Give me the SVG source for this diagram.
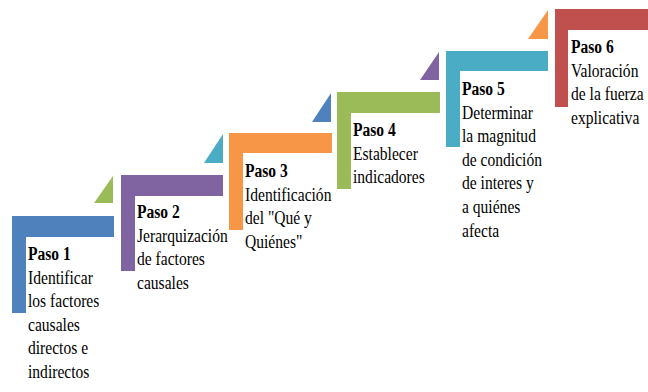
<svg xmlns="http://www.w3.org/2000/svg" width="648" height="392" viewBox="0 0 648 392">
<style>
.lbl{font-size:19px;fill:#000}
.hd{font-weight:bold}
.blue{fill:#4F81BD}.purple{fill:#8064A2}.orange{fill:#F79646}.green{fill:#9BBB59}.teal{fill:#4BACC6}.red{fill:#C0504D}
</style>
<rect width="648" height="392" fill="#fff"/>
<g id="connectors">
<polygon class="green" points="94,203 113,176 113,203"/>
<polygon class="teal" points="204,163 223,134 223,163"/>
<polygon class="blue" points="312,122 331,93 331,122"/>
<polygon class="purple" points="420,80 439,52 439,80"/>
<polygon class="orange" points="528,39 548,10 548,39"/>
</g>
<g id="step1">
<polygon class="blue" points="12,216 114,216 114,237 26,237 26,313 12,313"/>
<g transform="translate(28,260) scale(0.82,1)"><text class="lbl" font-family="Liberation Serif, serif"><tspan class="hd" x="0" y="0">Paso 1</tspan><tspan x="0" dy="23.6">Identificar</tspan><tspan x="0" dy="23.6">los factores</tspan><tspan x="0" dy="23.6">causales</tspan><tspan x="0" dy="23.6">directos e</tspan><tspan x="0" dy="23.6">indirectos</tspan></text></g>
</g>
<g id="step2">
<polygon class="purple" points="121,175 223,175 223,196 135,196 135,271 121,271"/>
<g transform="translate(137,218) scale(0.82,1)"><text class="lbl" font-family="Liberation Serif, serif"><tspan class="hd" x="0" y="0">Paso 2</tspan><tspan x="0" dy="23.6">Jerarquización</tspan><tspan x="0" dy="23.6">de factores</tspan><tspan x="0" dy="23.6">causales</tspan></text></g>
</g>
<g id="step3">
<polygon class="orange" points="229,133 332,133 332,153 243,153 243,230 229,230"/>
<g transform="translate(245,177) scale(0.82,1)"><text class="lbl" font-family="Liberation Serif, serif"><tspan class="hd" x="0" y="0">Paso 3</tspan><tspan x="0" dy="23.6">Identificación</tspan><tspan x="0" dy="23.6">del "Qué y</tspan><tspan x="0" dy="23.6">Quiénes"</tspan></text></g>
</g>
<g id="step4">
<polygon class="green" points="337,92 440,92 440,113 351,113 351,189 337,189"/>
<g transform="translate(353,136) scale(0.82,1)"><text class="lbl" font-family="Liberation Serif, serif"><tspan class="hd" x="0" y="0">Paso 4</tspan><tspan x="0" dy="23.6">Establecer</tspan><tspan x="0" dy="23.6">indicadores</tspan></text></g>
</g>
<g id="step5">
<polygon class="teal" points="446,51 548,51 548,71 460,71 460,147 446,147"/>
<g transform="translate(462,95) scale(0.82,1)"><text class="lbl" font-family="Liberation Serif, serif"><tspan class="hd" x="0" y="0">Paso 5</tspan><tspan x="0" dy="23.6">Determinar</tspan><tspan x="0" dy="23.6">la magnitud</tspan><tspan x="0" dy="23.6">de condición</tspan><tspan x="0" dy="23.6">de interes y</tspan><tspan x="0" dy="23.6">a quiénes</tspan><tspan x="0" dy="23.6">afecta</tspan></text></g>
</g>
<g id="step6">
<polygon class="red" points="555,9 648,9 648,30 568,30 568,107 555,107"/>
<g transform="translate(571,53) scale(0.82,1)"><text class="lbl" font-family="Liberation Serif, serif"><tspan class="hd" x="0" y="0">Paso 6</tspan><tspan x="0" dy="23.6">Valoración</tspan><tspan x="0" dy="23.6">de la fuerza</tspan><tspan x="0" dy="23.6">explicativa</tspan></text></g>
</g>
</svg>
